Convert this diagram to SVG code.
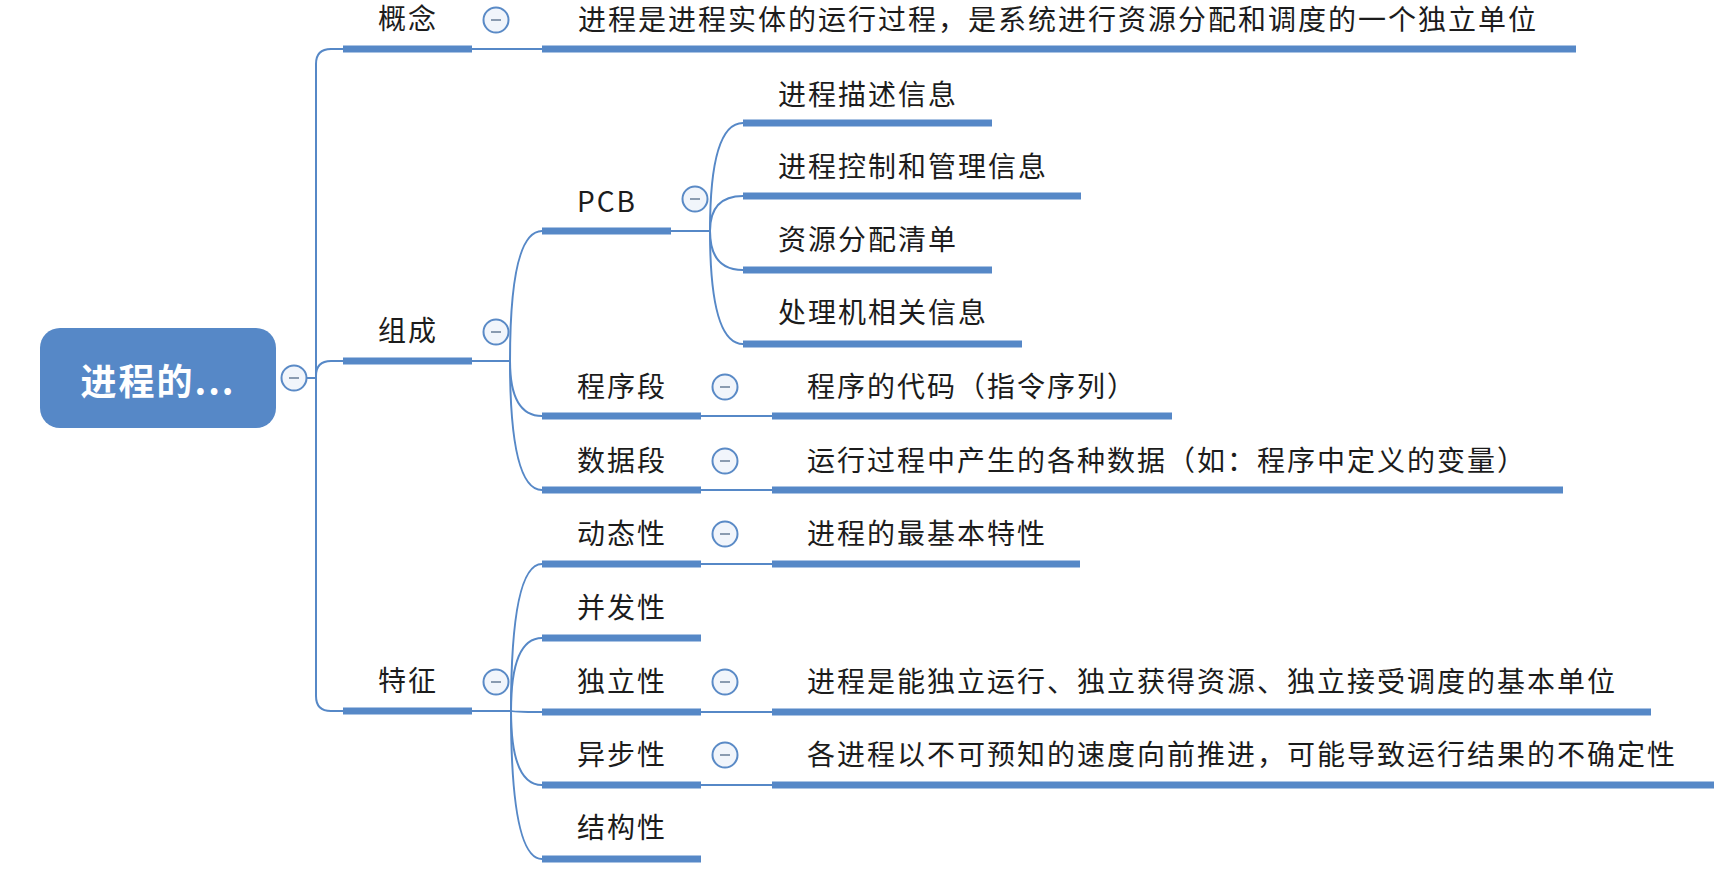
<svg xmlns="http://www.w3.org/2000/svg" width="1734" height="878" viewBox="0 0 1734 878">
<style>
.t{font-family:"Noto Sans CJK SC","Noto Sans",sans-serif;font-size:28px;fill:#1c1c1c;letter-spacing:2px}
.bar{stroke:#5688C7;stroke-width:7;fill:none}
.ln{stroke:#5688C7;stroke-width:2;fill:none}
.cc{fill:#F1F5FB;stroke:#5A8AC6;stroke-width:2}
.cm{stroke:#8A9BB0;stroke-width:2}
.root{fill:#5688C7}
.rt{font-family:"Noto Sans CJK SC","Noto Sans",sans-serif;font-size:36px;font-weight:bold;fill:#ffffff;letter-spacing:2px}
</style>
<defs>
<g id="tog"><circle class="cc" r="12.5"/><line class="cm" x1="-5" y1="0" x2="5" y2="0"/></g>
</defs>
<rect width="1734" height="878" fill="#ffffff"/>
<g id="connectors">
<path class="ln" d="M306 378 H316"/>
<path class="ln" d="M343 49 H331 Q316 49 316 64 V696 Q316 711 331 711 H343"/>
<path class="ln" d="M316 376 Q316 361 331 361 H343"/>
<path class="ln" d="M472 49 H542"/>
<path class="ln" d="M472 361 H510"/>
<path class="ln" d="M510 361 Q510 231 542 231"/>
<path class="ln" d="M510 361 Q510 416 542 416"/>
<path class="ln" d="M510 361 Q510 490 542 490"/>
<path class="ln" d="M671 231 H710"/>
<path class="ln" d="M710 231 Q710 123 743 123"/>
<path class="ln" d="M710 231 Q710 196 743 196"/>
<path class="ln" d="M710 231 Q710 270 743 270"/>
<path class="ln" d="M710 231 Q710 344 743 344"/>
<path class="ln" d="M701 416 H772"/>
<path class="ln" d="M701 490 H772"/>
<path class="ln" d="M472 711 H511"/>
<path class="ln" d="M511 711 Q511 564 542 564"/>
<path class="ln" d="M511 711 Q511 638 542 638"/>
<path class="ln" d="M511 711 Q511 712 542 712"/>
<path class="ln" d="M511 711 Q511 785 542 785"/>
<path class="ln" d="M511 711 Q511 859 542 859"/>
<path class="ln" d="M701 564 H772"/>
<path class="ln" d="M701 712 H772"/>
<path class="ln" d="M701 785 H772"/>
</g>
<g id="root">
<rect class="root" x="40" y="328" width="236" height="100" rx="20"/>
<text class="rt" x="158" y="395" text-anchor="middle">进程的...</text>
<use href="#tog" x="294" y="378"/>
</g>
<g id="n-gainian">
<line class="bar" x1="343" y1="49" x2="472" y2="49"/>
<text class="t" x="378" y="29">概念</text>
<use href="#tog" x="496" y="20"/>
</g>
<g id="n-gainian-c">
<line class="bar" x1="542" y1="49" x2="1576" y2="49"/>
<text class="t" x="578" y="30">进程是进程实体的运行过程，是系统进行资源分配和调度的一个独立单位</text>
</g>
<g id="n-zucheng">
<line class="bar" x1="343" y1="361" x2="472" y2="361"/>
<text class="t" x="378" y="341">组成</text>
<use href="#tog" x="496" y="332"/>
</g>
<g id="n-pcb">
<line class="bar" x1="542" y1="231" x2="671" y2="231"/>
<text class="t" x="577" y="212">PCB</text>
<use href="#tog" x="695" y="199"/>
</g>
<g id="n-pcb1">
<line class="bar" x1="743" y1="123" x2="992" y2="123"/>
<text class="t" x="778" y="105">进程描述信息</text>
</g>
<g id="n-pcb2">
<line class="bar" x1="743" y1="196" x2="1081" y2="196"/>
<text class="t" x="778" y="177">进程控制和管理信息</text>
</g>
<g id="n-pcb3">
<line class="bar" x1="743" y1="270" x2="992" y2="270"/>
<text class="t" x="778" y="250">资源分配清单</text>
</g>
<g id="n-pcb4">
<line class="bar" x1="743" y1="344" x2="1022" y2="344"/>
<text class="t" x="778" y="323">处理机相关信息</text>
</g>
<g id="n-chengxuduan">
<line class="bar" x1="542" y1="416" x2="701" y2="416"/>
<text class="t" x="577" y="397">程序段</text>
<use href="#tog" x="725" y="387"/>
</g>
<g id="n-chengxuduan-c">
<line class="bar" x1="772" y1="416" x2="1172" y2="416"/>
<text class="t" x="807" y="397">程序的代码（指令序列）</text>
</g>
<g id="n-shujuduan">
<line class="bar" x1="542" y1="490" x2="701" y2="490"/>
<text class="t" x="577" y="471">数据段</text>
<use href="#tog" x="725" y="461"/>
</g>
<g id="n-shujuduan-c">
<line class="bar" x1="772" y1="490" x2="1563" y2="490"/>
<text class="t" x="807" y="471">运行过程中产生的各种数据（如：程序中定义的变量）</text>
</g>
<g id="n-tezheng">
<line class="bar" x1="343" y1="711" x2="472" y2="711"/>
<text class="t" x="378" y="691">特征</text>
<use href="#tog" x="496" y="682"/>
</g>
<g id="n-dongtai">
<line class="bar" x1="542" y1="564" x2="701" y2="564"/>
<text class="t" x="577" y="544">动态性</text>
<use href="#tog" x="725" y="534"/>
</g>
<g id="n-dongtai-c">
<line class="bar" x1="772" y1="564" x2="1080" y2="564"/>
<text class="t" x="807" y="544">进程的最基本特性</text>
</g>
<g id="n-bingfa">
<line class="bar" x1="542" y1="638" x2="701" y2="638"/>
<text class="t" x="577" y="618">并发性</text>
</g>
<g id="n-duli">
<line class="bar" x1="542" y1="712" x2="701" y2="712"/>
<text class="t" x="577" y="692">独立性</text>
<use href="#tog" x="725" y="682"/>
</g>
<g id="n-duli-c">
<line class="bar" x1="772" y1="712" x2="1651" y2="712"/>
<text class="t" x="807" y="692">进程是能独立运行、独立获得资源、独立接受调度的基本单位</text>
</g>
<g id="n-yibu">
<line class="bar" x1="542" y1="785" x2="701" y2="785"/>
<text class="t" x="577" y="765">异步性</text>
<use href="#tog" x="725" y="755"/>
</g>
<g id="n-yibu-c">
<line class="bar" x1="772" y1="785" x2="1714" y2="785"/>
<text class="t" x="807" y="765">各进程以不可预知的速度向前推进，可能导致运行结果的不确定性</text>
</g>
<g id="n-jiegou">
<line class="bar" x1="542" y1="859" x2="701" y2="859"/>
<text class="t" x="577" y="838">结构性</text>
</g>
</svg>
